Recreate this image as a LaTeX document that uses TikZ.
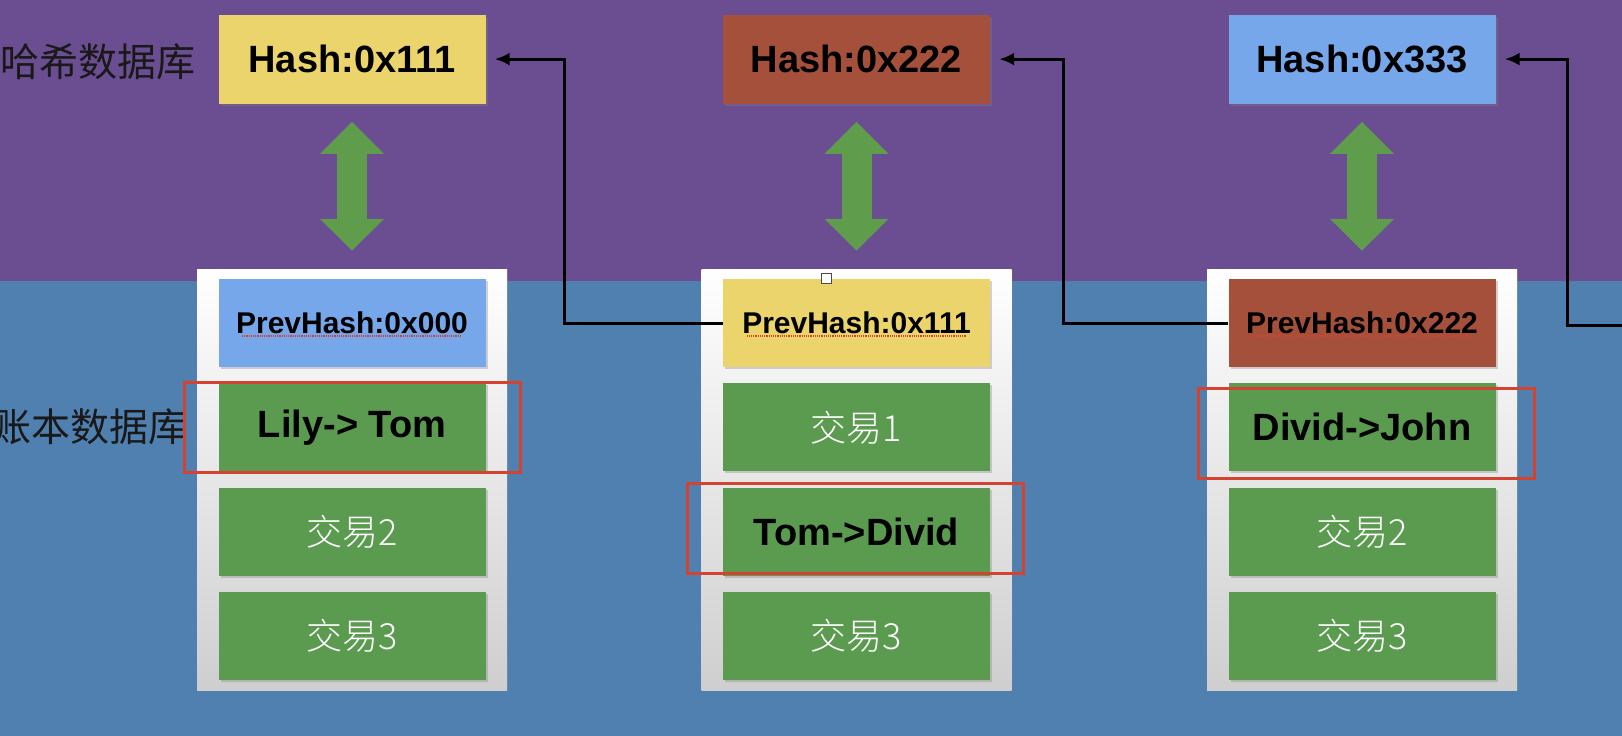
\documentclass[tikz,border=0pt]{standalone}
\usepackage{fontspec}
\setmainfont{Liberation Sans}
\newfontfamily\cjk{Noto Sans CJK SC Light}
\newfontfamily\cjkreg{Noto Sans CJK SC}
\usetikzlibrary{positioning}
\usetikzlibrary{arrows.meta}
\usetikzlibrary{shadows}

\definecolor{hashbg}{HTML}{6B4D91}
\definecolor{ledgerbg}{HTML}{4F80B0}
\definecolor{hyellow}{HTML}{EBD46B}
\definecolor{hbrown}{HTML}{A5503A}
\definecolor{hblue}{HTML}{76A7EA}
\definecolor{txgreen}{HTML}{5B9B50}
\definecolor{arrowgreen}{HTML}{5F9C4C}
\definecolor{hilite}{HTML}{D3432F}

\begin{document}
\begin{tikzpicture}[x=1pt, y=-1pt,
    boxshadow/.style={drop shadow={shadow xshift=2pt, shadow yshift=-2pt, opacity=0.35}},
    hashbox/.style={boxshadow, minimum width=267pt, minimum height=89pt, inner sep=0pt,
      font=\fontsize{38}{40}\selectfont\bfseries},
    prevbox/.style={boxshadow, minimum width=267pt, minimum height=88pt, inner sep=0pt,
      font=\fontsize{30}{32}\selectfont\bfseries},
    txbox/.style={boxshadow, fill=txgreen, minimum width=267pt, minimum height=88pt, inner sep=0pt,
      text=white, font=\cjk\fontsize{36}{38}\selectfont},
    bigtx/.style={txbox, text=black, font=\fontsize{38}{40}\selectfont\bfseries},
    panel/.style={minimum width=310pt, minimum height=421pt, inner sep=0pt,
      top color=white, bottom color=black!19,
      drop shadow={shadow xshift=1pt, shadow yshift=-1pt, opacity=0.25}},
    pick/.style={draw=hilite, line width=3pt, minimum width=336pt, minimum height=90pt, inner sep=0pt},
    updown/.style={arrowgreen, line width=30pt,
      {Triangle[length=32pt, width=62pt]}-{Triangle[length=32pt, width=62pt]},
      shorten <=18pt, shorten >=18pt},
    link/.style={line width=3pt, -{Latex[length=15pt, width=13pt]}, shorten >=9pt},
    dblabel/.style={font=\cjkreg\fontsize{39}{41}\selectfont, text=black!90, anchor=west, inner sep=0pt},
    squiggle/.style={hilite, densely dotted, line width=1.2pt}
  ]
  \useasboundingbox (0,0) rectangle (1622,736);
  \fill[hashbg] (0,0) rectangle (1622,281);
  \fill[ledgerbg] (0,281) rectangle (1622,736);

  \node[dblabel] (hashdb) at (0,62) {哈希数据库};
  \node[dblabel] (ledgerdb) at (-8,427) {账本数据库};

  % block 1
  \begin{scope}
    \node[panel] (panel1) at (352,479.5) {};
    \node[prevbox, fill=hblue, below=10pt of panel1.north] (prev1) {PrevHash:0x000};
    \node[bigtx, below=16pt of prev1] (tx11) {Lily-> Tom};
    \node[txbox, below=16pt of tx11] (tx12) {交易2};
    \node[txbox, below=16pt of tx12] (tx13) {交易3};
    \node[hashbox, fill=hyellow, above=165pt of panel1.north] (hash1) {Hash:0x111};
    \node[pick] (pick1) at (tx11) {};
    \draw[squiggle] ([xshift=-110pt, yshift=-13pt]prev1.center) -- ([xshift=110pt, yshift=-13pt]prev1.center);
    \draw[updown] (hash1.south) -- (panel1.north);
  \end{scope}

  % block 2
  \begin{scope}[xshift=504.5pt]
    \node[panel] (panel2) at (352,479.5) {};
    \node[prevbox, fill=hyellow, below=10pt of panel2.north] (prev2) {PrevHash:0x111};
    \node[txbox, below=16pt of prev2] (tx21) {交易1};
    \node[bigtx, below=16pt of tx21] (tx22) {Tom->Divid};
    \node[txbox, below=16pt of tx22] (tx23) {交易3};
    \node[hashbox, fill=hbrown, above=165pt of panel2.north] (hash2) {Hash:0x222};
    \node[pick] (pick2) at ([xshift=-1.5pt, yshift=3.5pt]tx22.center) {};
    \node[draw=black!70, fill=white, line width=1pt, minimum size=10pt, inner sep=0pt] (handle)
      at ([xshift=-30pt]prev2.north) {};
    \draw[squiggle] ([xshift=-110pt, yshift=-13pt]prev2.center) -- ([xshift=110pt, yshift=-13pt]prev2.center);
    \draw[updown] (hash2.south) -- (panel2.north);
  \end{scope}

  % block 3
  \begin{scope}[xshift=1010pt]
    \node[panel] (panel3) at (352,479.5) {};
    \node[prevbox, fill=hbrown, below=10pt of panel3.north] (prev3) {PrevHash:0x222};
    \node[bigtx, below=16pt of prev3] (tx31) {Divid->John};
    \node[txbox, below=16pt of tx31] (tx32) {交易2};
    \node[txbox, below=16pt of tx32] (tx33) {交易3};
    \node[hashbox, fill=hblue, above=165pt of panel3.north] (hash3) {Hash:0x333};
    \node[pick] (pick3) at ([xshift=4.5pt, yshift=-6pt]tx31.center) {};
    \draw[squiggle] ([xshift=-110pt, yshift=-13pt]prev3.center) -- ([xshift=110pt, yshift=-13pt]prev3.center);
    \draw[updown] (hash3.south) -- (panel3.north);
  \end{scope}

  % chain links
  \coordinate (next) at (1622,325);
  \draw[link] (prev2.west) -- ++(-158,0) |- (hash1.east);
  \draw[link] (prev3.west) -- ++(-165,0) |- (hash2.east);
  \draw[link] (next) -- ++(-55,0) |- (hash3.east);
\end{tikzpicture}
\end{document}
